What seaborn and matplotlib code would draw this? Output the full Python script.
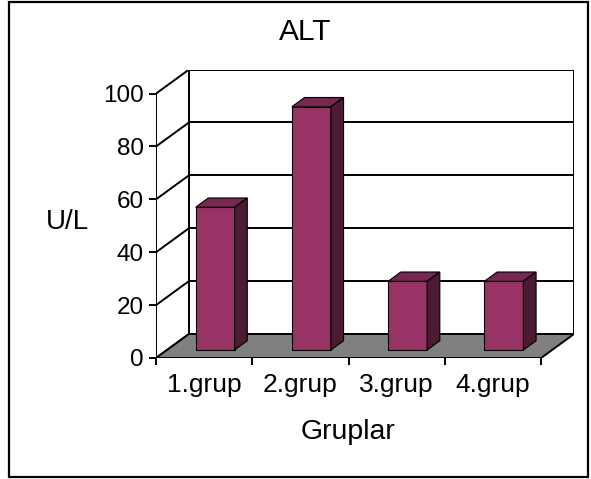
import matplotlib
matplotlib.use("Agg")
import matplotlib.pyplot as plt
from matplotlib.patches import Polygon, Rectangle
from matplotlib.transforms import Affine2D
import seaborn as sns
import pandas as pd

# ALT values per group (U/L)
groups = ["1.grup", "2.grup", "3.grup", "4.grup"]
alt_values = [54, 92, 26, 26]
y_ticks = [0, 20, 40, 60, 80, 100]

title = "ALT"
x_title = "Gruplar"
y_title = "U/L"

sns.set_style("white")
plt.rcParams["font.family"] = ["Liberation Sans", "DejaVu Sans"]
plt.rcParams["text.color"] = "black"
plt.rcParams["axes.labelcolor"] = "black"
plt.rcParams["xtick.color"] = "black"
plt.rcParams["ytick.color"] = "black"

FRONT = "#993366"
TOP = "#772850"
SIDE = "#4d1a33"
FLOOR = "#808080"

W, H = 591, 479
fig = plt.figure(figsize=(W / 100, H / 100), dpi=100)

# oblique depth vector of the floor, in data units (categories, U/L)
DX, DY = 0.342, 9.08
X0, X1 = -0.5, len(groups) - 0.5
YMAX = y_ticks[-1]

left_px, right_px, bottom_px = 156, 574, 358
top_px = bottom_px - (YMAX + DY) * 2.644
ax = fig.add_axes([left_px / W, 1 - bottom_px / H,
                   (right_px - left_px) / W, (bottom_px - top_px) / H])

df = pd.DataFrame({"grup": groups, "alt": alt_values})
sns.barplot(data=df, x="grup", y="alt", color=FRONT, saturation=1,
            width=0.405, edgecolor="black", linewidth=0.8, ax=ax, zorder=4)

ax.set_xlim(X0, X1 + DX)
ax.set_ylim(0, YMAX + DY)
for s in ax.spines.values():
    s.set_visible(False)

LW = 1.4
K = "black"

# back wall and its gridlines
ax.add_patch(Rectangle((X0 + DX, DY), X1 - X0, YMAX, facecolor="white",
                       edgecolor=K, linewidth=LW, zorder=1))
for v in y_ticks[1:-1]:
    ax.plot([X0 + DX, X1 + DX], [v + DY, v + DY], color=K, lw=LW, zorder=1.5)
# left side wall diagonals
for v in y_ticks:
    ax.plot([X0, X0 + DX], [v, v + DY], color=K, lw=LW, zorder=1.5,
            solid_capstyle="butt")
# floor
ax.add_patch(Polygon([(X0, 0), (X1, 0), (X1 + DX, DY), (X0 + DX, DY)],
                     closed=True, facecolor=FLOOR, edgecolor=K, linewidth=LW,
                     zorder=2))
# front axis lines
ax.plot([X0, X0], [0, YMAX], color=K, lw=LW, zorder=2.5)
ax.plot([X0, X1], [0, 0], color=K, lw=LW, zorder=2.5)

# place bars in the middle depth plane and add their top and side faces
f0, fb = 1 / 3, 0.385
shift = Affine2D().translate(f0 * DX, f0 * DY) + ax.transData
bdx, bdy = fb * DX, fb * DY
for p in list(ax.patches):
    if not isinstance(p, Rectangle) or p.get_zorder() != 4:
        continue
    p.set_transform(shift)
    x, y, w, h = p.get_x(), p.get_y(), p.get_width(), p.get_height()
    top = Polygon([(x, y + h), (x + w, y + h), (x + w + bdx, y + h + bdy),
                   (x + bdx, y + h + bdy)], closed=True, facecolor=TOP,
                  edgecolor=K, linewidth=0.8, transform=shift, zorder=4)
    side = Polygon([(x + w, y), (x + w + bdx, y + bdy),
                    (x + w + bdx, y + h + bdy), (x + w, y + h)], closed=True,
                   facecolor=SIDE, edgecolor=K, linewidth=0.8,
                   transform=shift, zorder=4)
    ax.add_patch(top)
    ax.add_patch(side)

# ticks
ax.set_yticks(y_ticks)
ax.set_yticklabels([str(v) for v in y_ticks])
ax.tick_params(axis="y", which="major", direction="out", length=5,
               width=LW, labelsize=17.5, pad=4, left=True)
ax.set_xticks(range(len(groups)))
ax.set_xticklabels(groups)
ax.set_xticks([i - 0.5 for i in range(len(groups) + 1)], minor=True)
ax.tick_params(axis="x", which="major", length=0, labelsize=19, pad=11)
ax.tick_params(axis="x", which="minor", direction="out", length=5,
               width=LW, bottom=True)
ax.grid(False)

ax.set_xlabel(x_title, fontsize=20.5)
ax.set_ylabel(y_title, fontsize=20, rotation=0, ha="center", va="center")
ax.xaxis.set_label_coords((348 - left_px) / (right_px - left_px),
                          -(432 - bottom_px) / (bottom_px - top_px))
ax.yaxis.set_label_coords((67 - left_px) / (right_px - left_px),
                          (bottom_px - 222) / (bottom_px - top_px))
ax.xaxis.label.set_va("center")

fig.text(305 / W, 1 - 32 / H, title, fontsize=21.5, ha="center", va="center")

# chart frame
fig.add_artist(Rectangle((9.5 / W, 1 - 476.5 / H), 578.5 / W, 474.5 / H,
                         transform=fig.transFigure, facecolor="none",
                         edgecolor="black", linewidth=1.6))

fig.savefig("out.png", dpi=100, facecolor="white")
